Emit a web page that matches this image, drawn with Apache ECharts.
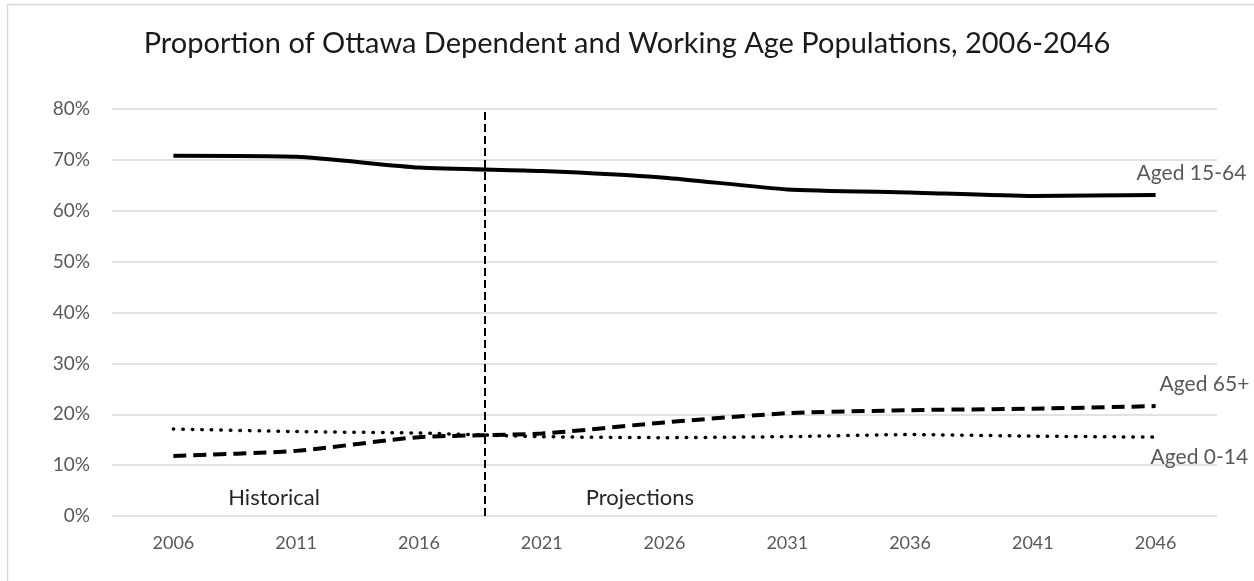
<!DOCTYPE html>
<html>
<head>
<meta http-equiv="content-type" content="text/html; charset=utf-8"/>
<title>Ottawa Dependent and Working Age Populations</title>
<style type="text/css">body,html{width:100%;height:100%;margin:0;background:#fff}#chart{width:1254px;height:581px}</style>
<script src="https://cdn.jsdelivr.net/npm/echarts@6/dist/echarts.min.js"></script>
</head>
<body>
<div id="chart"></div>
<script>
	// 数据
	var years = ['2006', '2011', '2016', '2021', '2026', '2031', '2036', '2041', '2046'];
	var aged15to64 = [0.708, 0.706, 0.685, 0.678, 0.665, 0.642, 0.636, 0.629, 0.631];
	var aged65plus = [0.118, 0.128, 0.155, 0.162, 0.184, 0.202, 0.208, 0.211, 0.216];
	var aged0to14 = [0.171, 0.166, 0.163, 0.156, 0.154, 0.156, 0.160, 0.157, 0.155];
	var dividerYear = 2018.7;
	var periodLabels = [['Historical', 2010.1, 0.035], ['Projections', 2025.0, 0.035]];

	var font = 'Lato';
	var grey = '#595959';

	var chart = echarts.init(document.getElementById('chart'));
	var option = {
		animation: false,
		title: {
			text: 'Proportion of Ottawa Dependent and Working Age Populations, 2006-2046',
			left: 'center',
			top: 24,
			textStyle: {color: '#1a1a1a', fontFamily: font, fontWeight: 'normal', fontSize: 29}
		},
		//图表外框
		graphic: [{
			type: 'rect',
			shape: {x: 7.5, y: 4.5, width: 1400, height: 800},
			style: {fill: 'none', stroke: '#d9d9d9', lineWidth: 1.5},
			silent: true
		}],
		grid: {left: 112, right: 37, top: 109, bottom: 65},
		xAxis: [{
			type: 'category',
			data: years,
			boundaryGap: true,
			axisLine: {show: false},
			axisTick: {show: false},
			axisLabel: {color: grey, fontFamily: font, fontSize: 18, margin: 18}
		}, {
			// 隐藏的年份轴, 用于分隔线和文字
			type: 'value',
			min: 2003.5,
			max: 2048.5,
			show: false
		}],
		yAxis: {
			type: 'value',
			min: 0,
			max: 0.8,
			interval: 0.1,
			axisLine: {show: false},
			axisTick: {show: false},
			splitLine: {lineStyle: {color: '#d9d9d9', width: 1.5}},
			axisLabel: {
				color: grey, fontFamily: font, fontSize: 19, margin: 22,
				formatter: function (v) { return Math.round(v * 100) + '%'; }
			}
		},
		series: [{
			name: 'Aged 15-64',
			type: 'line',
			data: aged15to64,
			symbol: 'none',
			smooth: 0.2,
			lineStyle: {color: '#000', width: 4},
			endLabel: {show: true, formatter: 'Aged 15-64', color: grey, fontFamily: font, fontSize: 21, offset: [-27, -22]}
		}, {
			name: 'Aged 65+',
			type: 'line',
			data: aged65plus,
			symbol: 'none',
			smooth: 0.2,
			lineStyle: {color: '#000', width: 4, type: [13, 7], cap: 'butt'},
			endLabel: {show: true, formatter: 'Aged 65+', color: grey, fontFamily: font, fontSize: 21, offset: [-4, -22]}
		}, {
			name: 'Aged 0-14',
			type: 'line',
			data: aged0to14,
			symbol: 'none',
			smooth: 0.2,
			lineStyle: {color: '#000', width: 3.5, type: [0.5, 9], cap: 'round'},
			endLabel: {show: true, formatter: 'Aged 0-14', color: grey, fontFamily: font, fontSize: 21, offset: [-13, 20]}
		}, {
			name: 'divider',
			type: 'line',
			xAxisIndex: 1,
			data: [],
			markLine: {
				silent: true,
				symbol: 'none',
				label: {show: false},
				lineStyle: {color: '#000', width: 2, type: [8, 4]},
				data: [{xAxis: dividerYear}]
			},
			markPoint: {
				silent: true,
				symbol: 'circle',
				symbolSize: 0,
				label: {show: true, position: 'inside', color: '#262626', fontFamily: font, fontSize: 22, formatter: '{b}'},
				data: periodLabels.map(function (p) { return {name: p[0], coord: [p[1], p[2]]}; })
			}
		}]
	};
	chart.setOption(option);
</script>
</body>
</html>
